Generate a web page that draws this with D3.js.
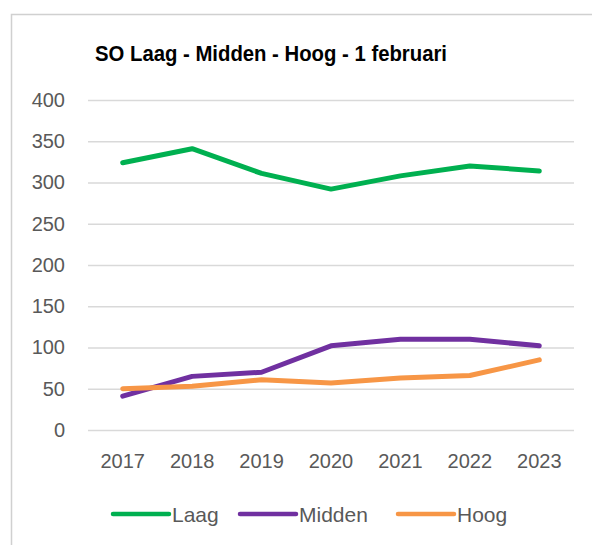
<!DOCTYPE html>
<html>
<head>
<meta charset="utf-8">
<script src="https://cdn.jsdelivr.net/npm/d3@7"></script>
<style>
  body { margin: 0; background: #fff; }
  text { font-family: "Liberation Sans", Arial, sans-serif; }
</style>
</head>
<body>
<svg id="chart"></svg>
<script>
const years = ["2017", "2018", "2019", "2020", "2021", "2022", "2023"];
const laag = [324, 341, 311, 292, 308, 320, 314];
const midden = [41, 65, 70, 102, 110, 110, 102];
const hoog = [50, 53, 61, 57, 63, 66, 85];
const yTicks = [0, 50, 100, 150, 200, 250, 300, 350, 400];

const series = [
    {name: "Laag", values: laag, color: "#00b050"},
    {name: "Midden", values: midden, color: "#7030a0"},
    {name: "Hoog", values: hoog, color: "#f79646"}
];

const width = 592, height = 545;
const padding = {top: 100, right: 18, bottom: 115, left: 88};

let svg = d3.select("#chart")
            .attr("width", width)
            .attr("height", height);

// chart border (runs off the right and bottom edge)
svg.append("rect")
    .attr("x", 11.5)
    .attr("y", 14.5)
    .attr("width", width)
    .attr("height", height)
    .attr("fill", "none")
    .attr("stroke", "#d0d0d0")
    .attr("stroke-width", 1.5);

svg.append("text")
    .attr("x", 271)
    .attr("y", 61)
    .attr("text-anchor", "middle")
    .attr("font-size", "22px")
    .attr("font-weight", "bold")
    .attr("textLength", 352)
    .attr("lengthAdjust", "spacingAndGlyphs")
    .attr("fill", "#000")
    .text("SO Laag - Midden - Hoog - 1 februari");

let xScale = d3.scaleBand()
                .domain(years)
                .range([padding.left, width - padding.right]);
let yScale = d3.scaleLinear()
                .domain([0, 400])
                .range([height - padding.bottom, padding.top]);

let yAxis = d3.axisLeft(yScale)
                .tickValues(yTicks)
                .tickSize(-(width - padding.left - padding.right))
                .tickPadding(23);

svg.append("g")
    .attr("class", "y-axis")
    .attr("transform", "translate(" + padding.left + ",0)")
    .call(yAxis)
    .call(g => g.select(".domain").remove())
    .call(g => g.selectAll(".tick line").attr("stroke", "#d9d9d9").attr("stroke-width", 1.3))
    .call(g => g.selectAll(".tick text")
        .attr("fill", "#595959")
        .attr("font-size", "20px")
        .attr("font-family", "Liberation Sans, Arial, sans-serif"));

let xAxis = d3.axisBottom(xScale)
                .tickSize(0)
                .tickPadding(24);

svg.append("g")
    .attr("class", "x-axis")
    .attr("transform", "translate(0," + (height - padding.bottom) + ")")
    .call(xAxis)
    .call(g => g.select(".domain").remove())
    .call(g => g.selectAll(".tick text")
        .attr("fill", "#595959")
        .attr("font-size", "20px")
        .attr("font-family", "Liberation Sans, Arial, sans-serif"));

let line = d3.line()
    .x((d, i) => xScale(years[i]) + xScale.bandwidth() / 2)
    .y(d => yScale(d));

svg.selectAll(".series")
    .data(series)
    .enter()
    .append("path")
        .classed("series", true)
        .attr("d", d => line(d.values))
        .attr("fill", "none")
        .attr("stroke", d => d.color)
        .attr("stroke-width", 5)
        .attr("stroke-linecap", "round")
        .attr("stroke-linejoin", "round");

// legend
let legendX = [113, 240, 398];
let legend = svg.selectAll(".legend")
    .data(series)
    .enter()
    .append("g")
        .classed("legend", true)
        .attr("transform", (d, i) => "translate(" + legendX[i] + ",514)");

legend.append("line")
    .attr("x1", 0)
    .attr("x2", 56)
    .attr("stroke", d => d.color)
    .attr("stroke-width", 4.5)
    .attr("stroke-linecap", "round");

legend.append("text")
    .attr("x", 59)
    .attr("y", 8)
    .attr("font-size", "21px")
    .attr("fill", "#595959")
    .text(d => d.name);
</script>
</body>
</html>
